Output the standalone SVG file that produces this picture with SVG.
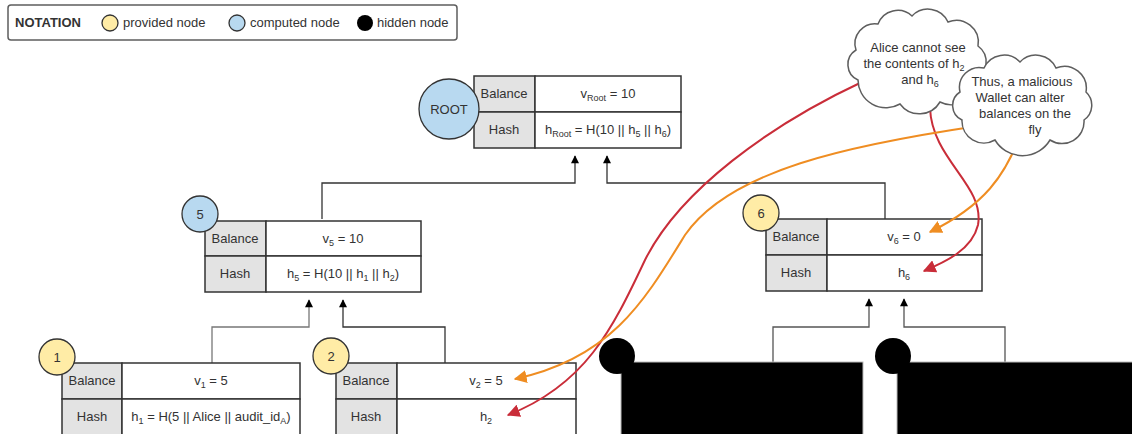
<svg xmlns="http://www.w3.org/2000/svg" width="1132" height="434" viewBox="0 0 1132 434">
<style>
text{font-family:"Liberation Sans",Arial,sans-serif;font-size:13px;fill:#333}
.c{text-anchor:middle}
.s{font-size:9px}
.lab{fill:#e3e3e3;stroke:#333;stroke-width:1.5}
.val{fill:#fff;stroke:#333;stroke-width:1.5}
.prov{fill:#ffeca6;stroke:#333;stroke-width:1.3}
.comp{fill:#b8d9f0;stroke:#333;stroke-width:1.3}
.link{fill:none;stroke:#333;stroke-width:1.3}
.red{fill:none;stroke:#c92d39;stroke-width:2}
.org{fill:none;stroke:#ef8d22;stroke-width:2}
.cloud{fill:#fff;stroke:#5e5e5e;stroke-width:1.5}
</style>
<defs>
<marker id="ab" viewBox="0 0 10 10" refX="9" refY="5" markerWidth="9" markerHeight="8" markerUnits="userSpaceOnUse" orient="auto"><path d="M0,0L10,5L0,10z" fill="#000"/></marker>
<marker id="ar" viewBox="0 0 10 10" refX="9" refY="5" markerWidth="13" markerHeight="13" markerUnits="userSpaceOnUse" orient="auto"><path d="M0,0L10,5L0,10z" fill="#c92d39"/></marker>
<marker id="ao" viewBox="0 0 10 10" refX="9" refY="5" markerWidth="13" markerHeight="13" markerUnits="userSpaceOnUse" orient="auto"><path d="M0,0L10,5L0,10z" fill="#ef8d22"/></marker>
</defs>
<rect width="1132" height="434" fill="#fff"/>

<g id="legend">
<rect x="8" y="5" width="449" height="35" rx="3" fill="#fff" stroke="#5e5e5e" stroke-width="1.5"/>
<text x="15" y="27" style="font-weight:bold">NOTATION</text>
<circle cx="110" cy="23" r="8" class="prov"/>
<text x="123" y="27">provided node</text>
<circle cx="237" cy="23" r="8" class="comp"/>
<text x="250" y="27">computed node</text>
<circle cx="365" cy="23" r="8" fill="#000"/>
<text x="377" y="27">hidden node</text>
</g>

<g id="connectors">
<path class="link" d="M322,219V183H575V156" marker-end="url(#ab)"/>
<path class="link" d="M885,219V183H607V156" marker-end="url(#ab)"/>
<path class="link" style="stroke:#777" d="M212,363V327H309V300" marker-end="url(#ab)"/>
<path class="link" d="M445,363V327H343V300" marker-end="url(#ab)"/>
<path class="link" style="stroke:#555" d="M773,362V327H869V299" marker-end="url(#ab)"/>
<path class="link" style="stroke:#555" d="M1005,362V327H904V299" marker-end="url(#ab)"/>
</g>

<g id="root">
<rect x="474" y="76" width="61" height="36" class="lab"/>
<rect x="535" y="76" width="146" height="36" class="val"/>
<rect x="474" y="112" width="61" height="36" class="lab"/>
<rect x="535" y="112" width="146" height="36" class="val"/>
<text x="504" y="98" class="c">Balance</text>
<text x="504" y="134" class="c">Hash</text>
<text x="608" y="98" class="c">v<tspan class="s" dy="3">Root</tspan><tspan dy="-3"> = 10</tspan></text>
<text x="608" y="134" class="c">h<tspan class="s" dy="3">Root</tspan><tspan dy="-3"> = H(10 || h</tspan><tspan class="s" dy="3">5</tspan><tspan dy="-3"> || h</tspan><tspan class="s" dy="3">6</tspan><tspan dy="-3">)</tspan></text>
<circle cx="449" cy="109" r="30" class="comp"/>
<text x="449" y="114" class="c">ROOT</text>
</g>

<g id="node5">
<rect x="205" y="221" width="61" height="35" class="lab"/>
<rect x="266" y="221" width="155" height="35" class="val"/>
<rect x="205" y="256" width="61" height="36" class="lab"/>
<rect x="266" y="256" width="155" height="36" class="val"/>
<text x="235" y="243" class="c">Balance</text>
<text x="235" y="278" class="c">Hash</text>
<text x="343" y="243" class="c">v<tspan class="s" dy="3">5</tspan><tspan dy="-3"> = 10</tspan></text>
<text x="343" y="278" class="c">h<tspan class="s" dy="3">5</tspan><tspan dy="-3"> = H(10 || h</tspan><tspan class="s" dy="3">1</tspan><tspan dy="-3"> || h</tspan><tspan class="s" dy="3">2</tspan><tspan dy="-3">)</tspan></text>
<circle cx="200" cy="214" r="18" class="comp"/>
<text x="200" y="219" class="c">5</text>
</g>

<g id="node6">
<rect x="766" y="219" width="61" height="36" class="lab"/>
<rect x="827" y="219" width="155" height="36" class="val"/>
<rect x="766" y="255" width="61" height="36" class="lab"/>
<rect x="827" y="255" width="155" height="36" class="val"/>
<text x="796" y="241" class="c">Balance</text>
<text x="796" y="277" class="c">Hash</text>
<text x="904" y="241" class="c">v<tspan class="s" dy="3">6</tspan><tspan dy="-3"> = 0</tspan></text>
<text x="904" y="277" class="c">h<tspan class="s" dy="3">6</tspan></text>
<circle cx="761" cy="213" r="18" class="prov"/>
<text x="761" y="218" class="c">6</text>
</g>

<g id="node1">
<rect x="62" y="363" width="60" height="36" class="lab"/>
<rect x="122" y="363" width="178" height="36" class="val"/>
<rect x="62" y="399" width="60" height="40" class="lab"/>
<rect x="122" y="399" width="178" height="40" class="val"/>
<text x="92" y="385" class="c">Balance</text>
<text x="92" y="421" class="c">Hash</text>
<text x="211" y="385" class="c">v<tspan class="s" dy="3">1</tspan><tspan dy="-3"> = 5</tspan></text>
<text x="211" y="421" class="c">h<tspan class="s" dy="3">1</tspan><tspan dy="-3"> = H(5 || Alice || audit_id</tspan><tspan class="s" dy="3">A</tspan><tspan dy="-3">)</tspan></text>
<circle cx="57" cy="357" r="18" class="prov"/>
<text x="57" y="362" class="c">1</text>
</g>

<g id="node2">
<rect x="336" y="363" width="61" height="36" class="lab"/>
<rect x="397" y="363" width="179" height="36" class="val"/>
<rect x="336" y="399" width="61" height="40" class="lab"/>
<rect x="397" y="399" width="179" height="40" class="val"/>
<text x="366" y="385" class="c">Balance</text>
<text x="366" y="421" class="c">Hash</text>
<text x="486" y="385" class="c">v<tspan class="s" dy="3">2</tspan><tspan dy="-3"> = 5</tspan></text>
<text x="486" y="421" class="c">h<tspan class="s" dy="3">2</tspan></text>
<circle cx="331" cy="356" r="18" class="prov"/>
<text x="331" y="361" class="c">2</text>
</g>

<g id="hidden3">
<rect x="621" y="362" width="242" height="80" fill="#000" stroke="#bbb" stroke-width="1"/>
<circle cx="617" cy="356" r="18" fill="#000"/>
</g>
<g id="hidden4">
<rect x="897" y="362" width="240" height="80" fill="#000" stroke="#bbb" stroke-width="1"/>
<circle cx="893" cy="356" r="18" fill="#000"/>
</g>

<g id="annotations">
<path class="red" d="M862,82C770,125 680,190 645,260C612,330 585,385 508,415" marker-end="url(#ar)"/>
<path class="red" d="M930,108C932,160 985,185 978,225C972,250 945,262 924,271" marker-end="url(#ar)"/>
<path class="org" d="M978,126C850,145 730,170 685,235C645,300 612,358 515,379" marker-end="url(#ao)"/>
<path class="org" d="M1020,136C1005,175 985,205 930,232" marker-end="url(#ao)"/>
</g>

<g id="cloud1">
<path class="cloud" d="M858,80A17,17 0 0 1 856,50A20,20 0 0 1 878,24A21,21 0 0 1 912,16A22,22 0 0 1 948,22A22,22 0 0 1 978,46A20,20 0 0 1 975,80A24,24 0 0 1 940,102A24,24 0 0 1 900,104A28,28 0 0 1 858,80z"/>
<text x="918" y="52" class="c">Alice cannot see</text>
<text x="914" y="68" class="c">the contents of h<tspan class="s" dy="3">2</tspan></text>
<text x="920" y="84" class="c">and h<tspan class="s" dy="3">6</tspan></text>
</g>
<g id="cloud2">
<path class="cloud" d="M962,120A16,16 0 0 1 960,92A20,20 0 0 1 984,68A22,22 0 0 1 1020,62A22,22 0 0 1 1056,68A22,22 0 0 1 1086,92A18,18 0 0 1 1084,120A22,22 0 0 1 1050,140A32,32 0 0 1 995,140A22,22 0 0 1 962,120z"/>
<text x="1022" y="86" class="c">Thus, a malicious</text>
<text x="1020" y="102" class="c">Wallet can alter</text>
<text x="1025" y="118" class="c">balances on the</text>
<text x="1035" y="134" class="c">fly</text>
</g>
</svg>
